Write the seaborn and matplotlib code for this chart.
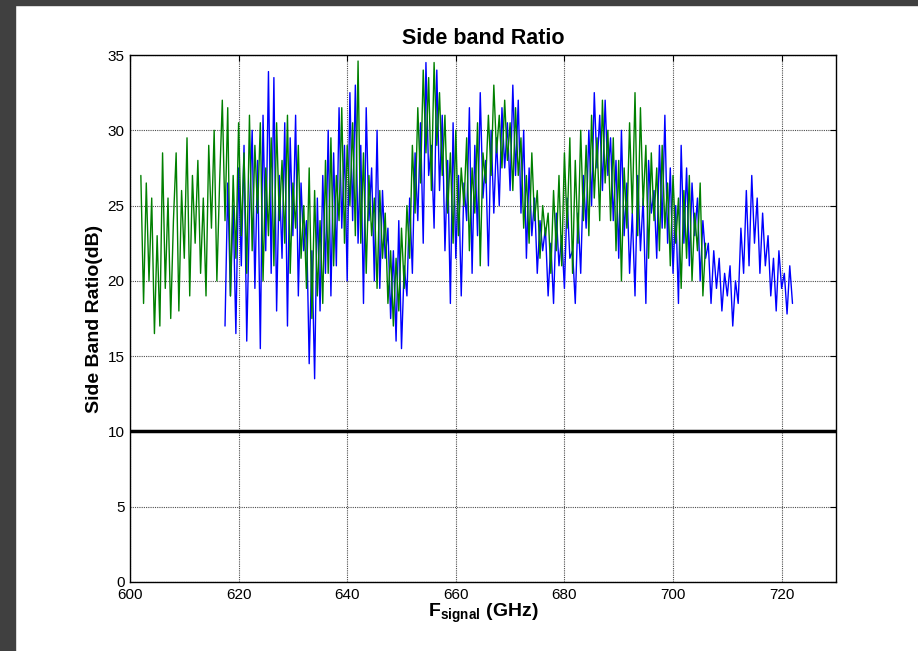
import numpy as np
import pandas as pd
import matplotlib
matplotlib.use('Agg')
import matplotlib.pyplot as plt
import seaborn as sns

# green trace, 602 -> 706 GHz, 0.5 GHz step
green = [27.0, 18.5, 26.5, 20.0, 25.5, 16.5, 23.0, 17.0, 28.5, 19.5,
         25.5, 17.5, 24.0, 28.5, 18.0, 26.0, 21.5, 29.5, 19.0, 27.0,
         22.5, 28.0, 20.5, 25.5, 19.0, 29.0, 23.5, 30.0, 20.0, 26.5,
         32.0, 24.0, 31.5, 19.0, 27.0, 21.5, 30.5, 23.0, 28.5, 20.5,
         31.0, 22.0, 29.0, 24.5, 30.5, 20.0, 27.5, 23.0, 29.5, 21.0,
         30.5, 24.0, 28.0, 22.5, 31.0, 20.5, 26.5, 23.5, 29.0, 21.5,
         25.0, 19.5, 27.5, 17.5, 26.0, 19.0, 24.0, 18.5, 28.0, 20.5,
         29.5, 21.0, 27.0, 24.0, 31.5, 22.5, 29.0, 25.0, 30.5, 23.0,
         34.6, 22.5, 28.5, 20.5, 27.0, 23.0, 25.5, 19.5, 26.0, 21.5,
         24.5, 18.5, 22.0, 17.0, 21.5, 18.0, 23.5, 19.5, 25.0, 21.5,
         29.0, 24.5, 31.5, 26.5, 34.0, 28.5, 33.5, 26.0, 34.5, 29.0,
         32.5, 27.0, 31.0, 24.5, 28.5, 22.5, 30.0, 23.0, 27.5, 25.0,
         29.5, 22.0, 27.5, 24.5, 30.5, 21.0, 28.5, 26.5, 31.0, 27.0,
         33.0, 28.5, 31.0, 27.5, 32.0, 28.0, 30.5, 26.0, 31.5, 27.0,
         29.5, 23.5, 27.0, 22.5, 28.5, 24.0, 26.0, 21.5, 25.0, 23.0,
         24.5, 20.5, 26.0, 22.0, 27.0, 21.0, 28.5, 23.5, 29.5, 20.5,
         28.0, 22.5, 30.0, 24.0, 29.0, 23.0, 31.0, 25.5, 29.5, 24.0,
         32.0, 26.5, 30.0, 24.0, 29.5, 22.0, 28.0, 20.0, 27.5, 23.5,
         30.5, 24.5, 32.5, 23.0, 31.5, 25.0, 29.0, 21.5, 28.5, 24.0,
         27.5, 22.0, 29.0, 23.5, 26.5, 21.0, 27.0, 22.5, 25.5, 19.5,
         26.0, 21.5, 27.0, 20.0, 24.5, 22.0, 26.5, 19.0, 22.5]

# blue trace, 617.5 -> 722 GHz, 0.5 GHz step
blue = [17.0, 26.5, 19.0, 25.0, 16.5, 27.5, 21.0, 29.0, 16.0, 24.5,
        30.0, 19.5, 28.0, 15.5, 31.0, 22.0, 33.9, 20.5, 33.5, 18.0,
        27.0, 21.5, 30.5, 17.0, 29.5, 23.0, 31.0, 19.0, 26.5, 22.0,
        24.0, 14.5, 22.0, 13.5, 25.5, 18.0, 27.0, 20.5, 30.0, 19.0,
        28.5, 21.0, 31.5, 23.5, 29.0, 20.0, 32.5, 24.0, 33.0, 22.5,
        29.0, 18.5, 31.5, 24.0, 27.5, 20.0, 30.0, 19.5, 26.0, 21.5,
        23.5, 17.5, 22.0, 16.0, 24.0, 15.5, 21.0, 19.0, 25.5, 20.5,
        28.5, 24.0, 30.5, 22.5, 34.5, 27.0, 29.0, 23.5, 34.0, 26.0,
        31.0, 22.0, 28.0, 18.5, 30.5, 21.5, 27.0, 19.0, 26.5, 24.0,
        31.5, 20.5, 29.0, 23.0, 32.5, 25.5, 28.0, 21.0, 30.0, 24.5,
        29.5, 25.0, 31.5, 27.5, 30.5, 26.0, 33.0, 27.0, 32.0, 24.5,
        30.0, 21.5, 27.5, 23.0, 25.5, 20.5, 24.0, 22.0, 23.5, 19.0,
        22.5, 18.5, 24.5, 21.0, 23.0, 19.5, 25.5, 21.5, 22.0, 18.5,
        24.5, 20.5, 27.0, 23.5, 30.0, 25.0, 32.5, 27.5, 31.0, 26.0,
        32.0, 27.0, 29.5, 24.0, 28.0, 21.5, 30.0, 23.0, 26.5, 20.5,
        24.5, 19.0, 27.0, 22.0, 25.5, 18.5, 28.0, 24.5, 26.0, 21.5,
        29.0, 23.5, 31.0, 22.5, 27.5, 20.5, 25.0, 18.5, 29.0, 22.5,
        27.5, 21.0, 26.5, 23.0, 25.5, 20.0, 24.0, 21.5, 22.5, 18.5,
        22.0, 19.5, 21.5, 18.0, 20.5, 19.0, 21.0, 17.0, 20.0, 18.5,
        23.5, 20.5, 26.0, 21.0, 27.0, 22.5, 25.5, 20.5, 24.5, 21.0,
        23.0, 19.0, 21.5, 18.0, 22.0, 19.5, 20.5, 17.8, 21.0, 18.5]

green_f = np.linspace(602, 706, len(green))
blue_f = np.linspace(617.5, 722, len(blue))
limit_db = 10

df_g = pd.DataFrame({'f': green_f, 'sbr': green})
df_b = pd.DataFrame({'f': blue_f, 'sbr': blue})

sns.set_style('white')
plt.rcParams['font.family'] = ['Liberation Sans', 'DejaVu Sans']
plt.rcParams['text.color'] = 'k'
plt.rcParams['axes.labelcolor'] = 'k'
plt.rcParams['mathtext.fontset'] = 'custom'
plt.rcParams['mathtext.rm'] = 'Liberation Sans'
plt.rcParams['mathtext.bf'] = 'Liberation Sans:bold'

fig = plt.figure(figsize=(9.18, 6.51), dpi=100)
ax = fig.add_axes([0.1416, 0.106, 0.769, 0.8095])

sns.lineplot(data=df_b, x='f', y='sbr', color='#0000ff', lw=1.0, ax=ax)
sns.lineplot(data=df_g, x='f', y='sbr', color='#008000', lw=1.0, ax=ax)
ax.axhline(limit_db, color='k', lw=2.5)

ax.set_xlim(600, 730)
ax.set_ylim(0, 35)
ax.set_xticks(np.arange(600, 721, 20))
ax.set_yticks(np.arange(0, 36, 5))
ax.grid(True, color='0.3', linestyle=(0, (1, 1)), lw=0.8)
ax.tick_params(direction='in', top=True, right=True, length=4,
               labelsize=11, colors='k')
ax.tick_params(axis='x', pad=4)
ax.tick_params(axis='y', pad=4)
for s in ax.spines.values():
    s.set_color('k')
    s.set_linewidth(1.0)

ax.set_title('Side band Ratio', fontsize=15.5, fontweight='bold', pad=8, color='k')
ax.set_xlabel(r'F$_{\mathbf{signal}}$ (GHz)', fontsize=14, fontweight='bold', labelpad=0)
ax.set_ylabel('Side Band Ratio(dB)', fontsize=14, fontweight='bold', labelpad=3)

# dark window frame on left and top
fig.patches.append(plt.Rectangle((0, 0), 15 / 918, 1, transform=fig.transFigure,
                                 color='#404040', zorder=-1))
fig.patches.append(plt.Rectangle((0, 1 - 5 / 651), 1, 5 / 651, transform=fig.transFigure,
                                 color='#404040', zorder=-1))

fig.savefig('out.png', dpi=100)
